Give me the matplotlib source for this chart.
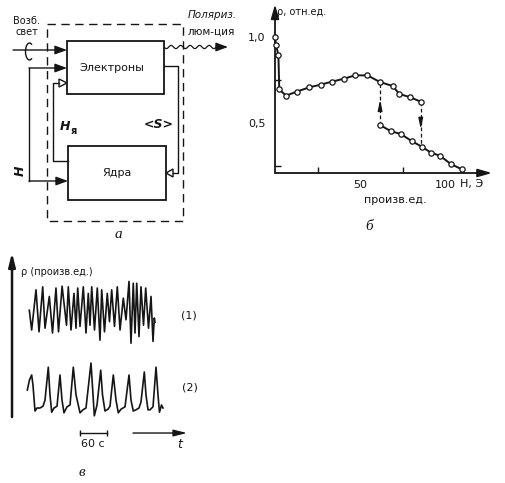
import numpy as np
import matplotlib
matplotlib.use('Agg')
import matplotlib.pyplot as plt
from matplotlib.patches import Rectangle, Polygon, Arc

plt.rcParams['font.family'] = ['DejaVu Sans']

# ---------------- data: panel б (rho vs H) ----------------
H_upper = [0, 0.6, 2.0, 2.5, 6.5, 12.7, 20.0, 26.9, 33.3, 40.8, 47.0, 54.3,
           61.8, 69.2, 73.1, 79.4, 85.7]
rho_upper = [1.0, 0.953, 0.895, 0.696, 0.659, 0.682, 0.707, 0.723, 0.740,
             0.758, 0.777, 0.777, 0.738, 0.715, 0.669, 0.650, 0.624]
H_lower = [61.8, 68.0, 73.9, 80.4, 86.3, 91.8, 97.0, 103.3, 109.8]
rho_lower = [0.488, 0.453, 0.436, 0.395, 0.362, 0.327, 0.310, 0.262, 0.231]
H_jump_up = 61.8
H_jump_down = 85.7
b_xticks = [50, 100]
b_xticklabels = ['50', '100']
b_yticks = [0.5, 1.0]
b_yticklabels = ['0,5', '1,0']

# ---------------- data: panel в (time traces) ----------------
t1 = [5.1, 10.4, 20.0, 26.7, 34.9, 40.0, 49.6, 56.7, 64.4, 70.0,
      78.0, 87.8, 91.8, 97.8, 104.4, 108.9, 112.7, 117.8, 125.1, 131.1, 136.2,
      140.0, 143.8, 150.0, 156.2, 162.2, 166.0, 172.2, 178.4, 183.3, 188.2,
      194.4, 200.7, 206.7, 214.0, 220.0, 226.7, 231.1, 236.2, 240.0, 243.8,
      248.9, 253.3, 258.9, 263.8, 270.0, 275.6, 280.0, 282.9, 284.4]
rho1 = [5.8, 2.5, 9.2, 2.2, 9.7, 2.8, 8.1, 2.0, 9.5, 2.2,
        9.8, 3.3, 9.7, 2.5, 8.6, 2.8, 9.5, 3.1, 9.7, 2.0, 8.6,
        3.3, 9.7, 2.5, 9.5, 0.8, 9.2, 2.2, 8.6, 3.9, 9.2,
        3.1, 9.7, 2.5, 7.8, 4.2, 10.6, 0.3, 10.3, 2.0, 10.3,
        1.4, 9.7, 3.3, 9.5, 2.8, 8.1, 0.6, 4.5, 3.8]
t2 = [0.7, 5.6, 10.4, 13.3, 17.8, 22.2, 28.9, 35.6, 40.0, 47.3, 51.1, 54.9,
      60.0, 66.7, 73.3, 77.8, 82.2, 88.9, 95.6, 102.9, 108.9, 117.8, 124.4,
      131.1, 142.2, 146.7, 149.6, 155.6, 163.8, 167.8, 173.3, 180.0, 184.4,
      191.8, 197.8, 202.9, 208.9, 217.8, 226.7, 231.1, 236.2, 242.2, 248.9,
      253.3, 260.7, 264.4, 268.9, 273.3, 280.0, 286.7, 291.1, 294.4, 298.9,
      302.2]
rho2 = [4.5, 6.2, 7.0, 5.3, 1.0, 1.5, 1.5, 1.8, 2.8, 8.3, 3.7, 0.8,
        1.5, 1.8, 7.0, 2.8, 0.7, 1.7, 2.0, 8.3, 3.7, 0.7, 1.2,
        1.5, 9.0, 3.7, 0.2, 2.0, 7.8, 3.7, 1.0, 1.3, 1.8,
        7.0, 2.8, 0.7, 1.3, 1.7, 7.0, 2.8, 1.0, 1.2, 1.5,
        2.5, 7.5, 3.7, 1.2, 1.2, 1.7, 8.3, 3.7, 0.8, 2.0,
        1.5]
scale_bar_s = 60

K = '#151515'

fig = plt.figure(figsize=(5.05, 4.83), dpi=100)
fig.patch.set_facecolor('white')

# ---------------- canvas for the schematic (pixel units) ----------------
cv = fig.add_axes([0, 0, 1, 1])
cv.set_xlim(0, 505)
cv.set_ylim(483, 0)
cv.axis('off')


def arrow(ax, x0, y0, x1, y1, lw=1.0, hl=0.6, hw=0.22, ms=12):
    ax.annotate('', xy=(x1, y1), xytext=(x0, y0),
                arrowprops=dict(arrowstyle='-|>,head_length=%g,head_width=%g' % (hl, hw),
                                lw=lw, color=K, shrinkA=0, shrinkB=0,
                                mutation_scale=ms),
                annotation_clip=False)


# dashed enclosure and blocks
cv.add_patch(Rectangle((47, 24), 136, 197, fill=False, ec=K, lw=1.0,
                       ls=(0, (6, 4))))
cv.add_patch(Rectangle((67, 41), 97, 53, fill=False, ec=K, lw=1.3))
cv.add_patch(Rectangle((68, 146), 98, 54, fill=False, ec=K, lw=1.3))
cv.text(112, 68, 'Электроны', ha='center', va='center', fontsize=8, color=K)
cv.text(117, 173, 'Ядра', ha='center', va='center', fontsize=8, color=K)

# exciting light
arrow(cv, 13, 50, 67, 50)
cv.add_patch(Arc((29.5, 51.5), 8, 17, theta1=70, theta2=290, color=K, lw=1.0))
cv.text(27, 21, 'Возб.', ha='center', va='center', fontsize=7, color=K)
cv.text(27, 32, 'свет', ha='center', va='center', fontsize=7, color=K)

# external field H
cv.plot([29, 29], [68, 181], color=K, lw=1.0)
arrow(cv, 29, 68, 67, 68)
arrow(cv, 29, 181, 68, 181)
cv.text(20, 171, 'H', ha='center', va='center', fontsize=9, color=K,
        rotation=90, fontweight='bold', fontstyle='italic')

# nuclear field H_я
cv.plot([68, 53, 53, 59], [161, 161, 83, 83], color=K, lw=1.0)
cv.add_patch(Polygon([[67, 83], [59, 79], [59, 87]], closed=True, fc='white',
                     ec=K, lw=1.0))
cv.text(60, 127, 'H', ha='left', va='center', fontsize=9, color=K,
        fontweight='bold', fontstyle='italic')
cv.text(71, 131, 'я', ha='left', va='center', fontsize=7, color=K,
        fontweight='bold')

# electron spin <S>
cv.plot([164, 178, 178, 173], [66, 66, 173, 173], color=K, lw=1.0)
cv.add_patch(Polygon([[166, 173], [173, 169], [173, 177]], closed=True,
                     fc='white', ec=K, lw=1.0))
cv.text(159, 125, '<S>', ha='center', va='center', fontsize=9, color=K,
        fontstyle='italic', fontweight='bold')

# polarized luminescence (wavy output)
xw = np.linspace(164, 219, 120)
cv.plot(xw, 47 + 1.6 * np.sin(2 * np.pi * (xw - 164) / 9.5), color=K, lw=0.9)
arrow(cv, 218, 47, 228, 47)
cv.text(188, 15, 'Поляриз.', ha='left', va='center', fontsize=7.5, color=K,
        fontstyle='italic')
cv.text(188, 32, 'люм-ция', ha='left', va='center', fontsize=7.5, color=K)

# panel letters
cv.text(118, 235, 'а', ha='center', va='center', fontsize=11, color=K,
        family='Liberation Serif', fontstyle='italic')
cv.text(369, 227, 'б', ha='center', va='center', fontsize=11, color=K,
        family='Liberation Serif', fontstyle='italic')
cv.text(82, 473, 'в', ha='center', va='center', fontsize=11, color=K,
        family='Liberation Serif', fontstyle='italic')

# ---------------- panel б ----------------
ab = fig.add_axes([275 / 505, 1 - 173 / 483, 217 / 505, 169 / 483])
ab.set_facecolor('none')
ab.set_xlim(0, 127.6)
ab.set_ylim(0.2093, 1.1919)
for s in ab.spines.values():
    s.set_visible(False)
ab.annotate('', xy=(0, 1.19), xytext=(0, 0.2093),
            arrowprops=dict(arrowstyle='-|>,head_length=0.7,head_width=0.2',
                            lw=1.3, color=K, shrinkA=0, shrinkB=0,
                            mutation_scale=12), annotation_clip=False)
ab.annotate('', xy=(127.6, 0.2093), xytext=(0, 0.2093),
            arrowprops=dict(arrowstyle='-|>,head_length=0.7,head_width=0.2',
                            lw=1.3, color=K, shrinkA=0, shrinkB=0,
                            mutation_scale=12), annotation_clip=False)
ab.set_xticks(b_xticks)
ab.set_xticklabels(b_xticklabels)
ab.set_yticks(b_yticks)
ab.set_yticklabels(b_yticklabels)
ab.set_xticks([25, 75], minor=True)
ab.set_yticks([0.25, 0.75], minor=True)
ab.tick_params(axis='both', which='major', length=0, labelsize=8,
               labelcolor=K)
ab.tick_params(axis='x', which='major', pad=5)
ab.tick_params(axis='y', which='major', pad=7)
ab.tick_params(axis='both', which='minor', direction='in', length=4,
               width=1.0, color=K)

ab.plot(H_upper, rho_upper, '-o', color=K, lw=1.4, ms=3.8, mfc='white',
        mec=K, mew=0.9, clip_on=False, zorder=3)
ab.plot(H_lower, rho_lower, '-o', color=K, lw=1.4, ms=3.8, mfc='white',
        mec=K, mew=0.9, clip_on=False, zorder=3)
ab.plot([H_jump_up, H_jump_up], [rho_lower[0], rho_upper[12]], color=K,
        lw=0.9, ls=(0, (3, 2)), zorder=2)
ab.plot([H_jump_down, H_jump_down], [rho_upper[-1], rho_lower[4]], color=K,
        lw=0.9, ls=(0, (3, 2)), zorder=2)
ab.annotate('', xy=(H_jump_up, 0.635), xytext=(H_jump_up, 0.59),
            arrowprops=dict(arrowstyle='-|>,head_length=0.7,head_width=0.15',
                            lw=0.9, color=K, shrinkA=0, shrinkB=0,
                            mutation_scale=9))
ab.annotate('', xy=(H_jump_down, 0.465), xytext=(H_jump_down, 0.51),
            arrowprops=dict(arrowstyle='-|>,head_length=0.7,head_width=0.15',
                            lw=0.9, color=K, shrinkA=0, shrinkB=0,
                            mutation_scale=9))

cv.text(277, 12, 'ρ, отн.ед.', ha='left', va='center', fontsize=7, color=K)
cv.text(460, 184, 'Н, Э', ha='left', va='center', fontsize=8, color=K)
cv.text(395, 200, 'произв.ед.', ha='center', va='center', fontsize=8,
        color=K)

# ---------------- panel в ----------------
av = fig.add_axes([0, 0, 250 / 505, 238 / 483])
av.set_facecolor('none')
av.set_xlim(-60, 495.56)
av.set_ylim(0, 39.67)
av.axis('off')
av.plot(t1, np.array(rho1) + 23, color=K, lw=1.2)
av.plot(t2, np.array(rho2) + 11, color=K, lw=1.2)
av.annotate('', xy=(-33.3, 38.4), xytext=(-33.3, 11),
            arrowprops=dict(arrowstyle='-|>,head_length=0.8,head_width=0.2',
                            lw=1.8, color=K, shrinkA=0, shrinkB=0,
                            mutation_scale=10))
av.plot([118, 118 + scale_bar_s], [8.33, 8.33], color=K, lw=1.0,
        marker='|', ms=4, mew=1.0)
av.annotate('', xy=(355.6, 8.33), xytext=(235.6, 8.33),
            arrowprops=dict(arrowstyle='-|>,head_length=0.8,head_width=0.2',
                            lw=1.0, color=K, shrinkA=0, shrinkB=0,
                            mutation_scale=10))

cv.text(21, 272, 'ρ (произв.ед.)', ha='left', va='center', fontsize=7,
        color=K)
cv.text(189, 315, '(1)', ha='center', va='center', fontsize=8, color=K)
cv.text(190, 388, '(2)', ha='center', va='center', fontsize=8, color=K)
cv.text(93, 444, '60 с', ha='center', va='center', fontsize=8, color=K)
cv.text(180, 445, 't', ha='center', va='center', fontsize=9, color=K,
        fontstyle='italic')

fig.savefig('out.png', dpi=100, facecolor='white')
